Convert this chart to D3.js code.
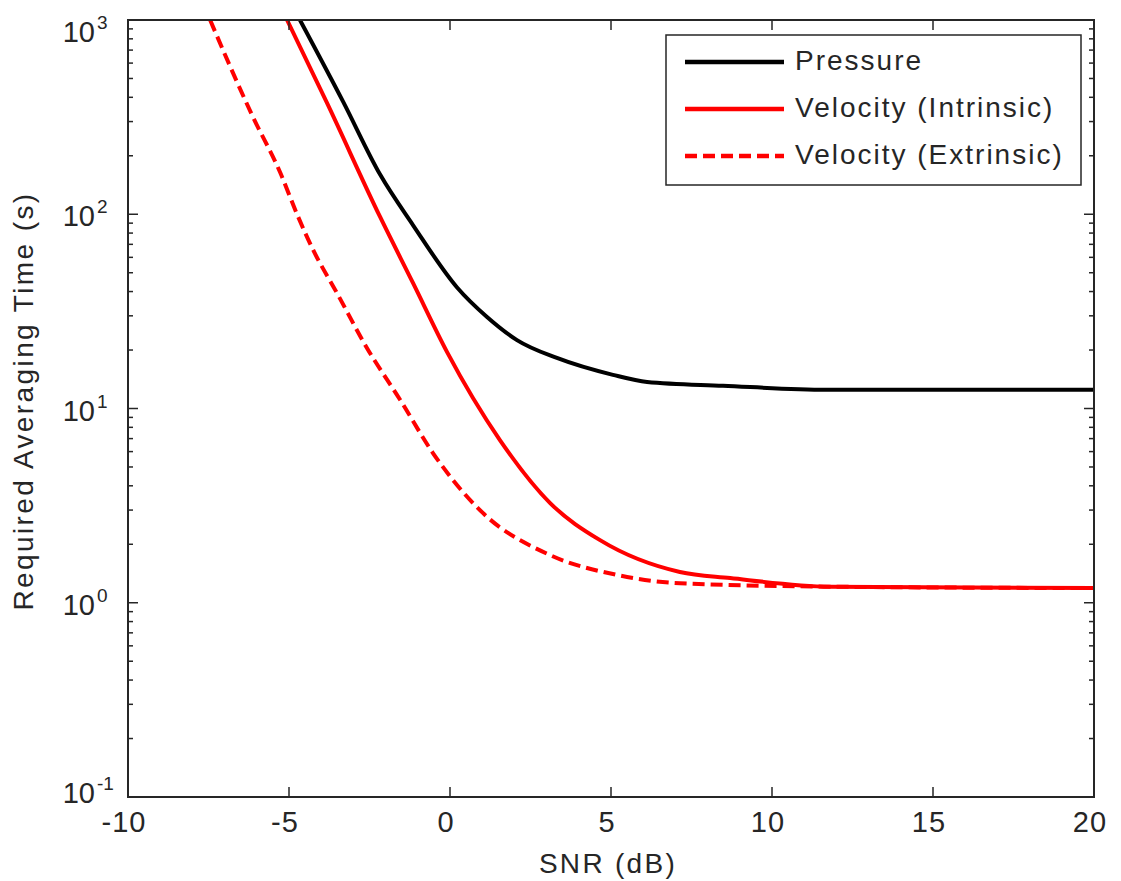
<!DOCTYPE html>
<html>
<head>
<meta charset="utf-8">
<script src="https://cdn.jsdelivr.net/npm/d3@7"></script>
<style>
  body { margin: 0; background: #fff; }
  svg text { font-family: "Liberation Sans", Arial, sans-serif; fill: #262626; }
</style>
</head>
<body>
<div id="chart"></div>
<script>
// values (SNR in dB, time in s)
const pressureSnr = [-4.66, -3.32, -2.17, -1.15, 0.22, 1.15, 2.08, 3.32, 5.06, 6.12, 8.48, 11.7, 20];
const pressureTime = [1000, 380, 160, 88, 42, 29.6, 22.5, 18.2, 14.9, 13.7, 13.1, 12.5, 12.5];

const intrinsicSnr = [-5.06, -3.82, -2.17, -1.15, -0.09, 1.55, 3.11, 4.66, 7.14, 8.7, 11.8, 20];
const intrinsicTime = [1000, 374, 96.8, 44.3, 19.5, 6.88, 3.26, 2.1, 1.44, 1.34, 1.21, 1.19];

const extrinsicSnr = [-7.45, -6.12, -5.28, -4.75, -4.25, -3.51, -2.58, -1.55, -0.53, 1.02, 3.11, 5.19, 7.14, 11.8, 20];
const extrinsicTime = [1000, 317, 165, 100, 65.5, 39.3, 20.5, 11.1, 5.9, 2.9, 1.76, 1.39, 1.26, 1.21, 1.19];

const xTicks = [-10, -5, 0, 5, 10, 15, 20];
const yDecades = [-1, 0, 1, 2, 3];
const legendLabels = ["Pressure", "Velocity (Intrinsic)", "Velocity (Extrinsic)"];

const W = 1121, H = 881;
const margin = {left: 128, top: 20, right: 27, bottom: 84};
const iw = W - margin.left - margin.right;
const ih = H - margin.top - margin.bottom;

const svg = d3.select("#chart").append("svg")
    .attr("width", W).attr("height", H);

const x = d3.scaleLinear().domain([-10, 20]).range([0, iw]);
const y = d3.scaleLog().domain([0.1, 1000]).range([ih, 0]);

const g = svg.append("g")
    .attr("transform", "translate(" + margin.left + "," + margin.top + ")");

g.append("clipPath").attr("id", "clip")
    .append("rect").attr("width", iw).attr("height", ih);

const line = d3.line()
    .x(d => x(d[0]))
    .y(d => y(d[1]))
    .curve(d3.curveMonotoneX);

const series = [
    {snr: pressureSnr, t: pressureTime, color: "#000", dash: null},
    {snr: intrinsicSnr, t: intrinsicTime, color: "#ff0000", dash: null},
    {snr: extrinsicSnr, t: extrinsicTime, color: "#ff0000", dash: "12,6"}
];

series.slice().reverse().forEach(s => {
    g.append("path")
        .datum(d3.zip(s.snr, s.t))
        .attr("clip-path", "url(#clip)")
        .attr("fill", "none")
        .attr("stroke", s.color)
        .attr("stroke-width", 4)
        .attr("stroke-dasharray", s.dash)
        .attr("d", line);
});

// ticks, inward on all four sides
const minor = [];
yDecades.slice(0, -1).forEach(e => {
    for (let k = 2; k <= 9; k++) minor.push(k * Math.pow(10, e));
});

const tickStroke = "#262626";
xTicks.forEach(v => {
    g.append("line").attr("x1", x(v)).attr("x2", x(v)).attr("y1", ih).attr("y2", ih - 10)
        .attr("stroke", tickStroke).attr("stroke-width", 1.5);
    g.append("line").attr("x1", x(v)).attr("x2", x(v)).attr("y1", 0).attr("y2", 10)
        .attr("stroke", tickStroke).attr("stroke-width", 1.5);
});
yDecades.forEach(e => {
    const yy = y(Math.pow(10, e));
    g.append("line").attr("x1", 0).attr("x2", 10).attr("y1", yy).attr("y2", yy).attr("stroke", tickStroke).attr("stroke-width", 1.5);
    g.append("line").attr("x1", iw).attr("x2", iw - 10).attr("y1", yy).attr("y2", yy).attr("stroke", tickStroke).attr("stroke-width", 1.5);
});
minor.forEach(v => {
    const yy = y(v);
    g.append("line").attr("x1", 0).attr("x2", 5).attr("y1", yy).attr("y2", yy).attr("stroke", tickStroke).attr("stroke-width", 1.5);
    g.append("line").attr("x1", iw).attr("x2", iw - 5).attr("y1", yy).attr("y2", yy).attr("stroke", tickStroke).attr("stroke-width", 1.5);
});

g.append("rect").attr("width", iw).attr("height", ih)
    .attr("fill", "none").attr("stroke", "#262626").attr("stroke-width", 2);

// x tick labels
g.selectAll(".xl").data(xTicks).enter().append("text")
    .attr("x", d => x(d) - 4).attr("y", ih + 35)
    .attr("text-anchor", "middle")
    .style("font-size", "29px")
    .style("letter-spacing", "1px")
    .text(d => d);

// y tick labels: "10" plus exponent, kept inside the figure at top and bottom
yDecades.forEach(e => {
    let base = margin.top + y(Math.pow(10, e)) + 12;
    base = Math.max(42, Math.min(803, base));
    svg.append("text")
        .attr("x", 95).attr("y", base)
        .attr("text-anchor", "end")
        .style("font-size", "29px")
        .text("10");
    svg.append("text")
        .attr("x", 97).attr("y", base - 13)
        .style("font-size", "19px")
        .text(e);
});

// axis titles
svg.append("text")
    .attr("x", 608).attr("y", 873)
    .attr("text-anchor", "middle")
    .style("font-size", "28px")
    .style("letter-spacing", "2.3px")
    .text("SNR (dB)");

svg.append("text")
    .attr("transform", "translate(33,401) rotate(-90)")
    .attr("text-anchor", "middle")
    .style("font-size", "28px")
    .style("letter-spacing", "2.4px")
    .text("Required Averaging Time (s)");

// legend
const leg = svg.append("g").attr("transform", "translate(666,35)");
leg.append("rect").attr("width", 415).attr("height", 150)
    .attr("fill", "#fff").attr("stroke", "#262626").attr("stroke-width", 1.5);
legendLabels.forEach((lab, i) => {
    const yy = 27 + i * 47;
    leg.append("line").attr("x1", 19).attr("x2", 118).attr("y1", yy).attr("y2", yy)
        .attr("stroke", series[i].color).attr("stroke-width", 4.5)
        .attr("stroke-dasharray", series[i].dash);
    leg.append("text").attr("x", 129).attr("y", yy + 8)
        .style("font-size", "28px")
        .style("letter-spacing", "2px")
        .text(lab);
});
</script>
</body>
</html>
